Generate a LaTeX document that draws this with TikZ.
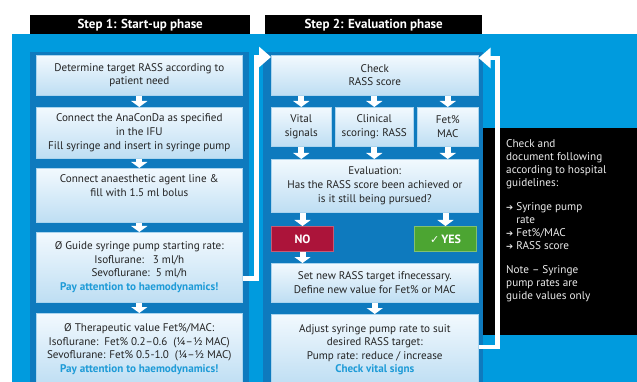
\documentclass[tikz,border=0pt]{standalone}
\usepackage{fontspec}
\setmainfont{PT Sans}
\newfontfamily\symfont{DejaVu Sans}
\usetikzlibrary{arrows.meta,calc}
\definecolor{bgblue}{RGB}{0,155,222}
\definecolor{panelblue}{RGB}{14,122,190}
\definecolor{boxtop}{RGB}{242,249,254}
\definecolor{boxbot}{RGB}{190,222,243}
\definecolor{boxedge}{RGB}{170,212,238}
\definecolor{accent}{RGB}{30,155,215}
\definecolor{txt}{RGB}{35,35,35}
\definecolor{nored}{RGB}{172,20,58}
\definecolor{yesgreen}{RGB}{76,165,50}
\tikzset{
  box/.style={top color=boxtop, bottom color=boxbot, draw=boxedge, line width=0.6pt,
    inner sep=0pt, align=center, text=txt, anchor=north west,
    font=\fontsize{11.1}{13.6}\selectfont},
  header/.style={fill=black, text=white, inner sep=0pt, anchor=north west,
    font=\bfseries\fontsize{13}{14}\selectfont},
  darr/.style={draw=white, line width=6pt, -{Triangle[width=16pt,length=6pt]}},
  fb/.style={draw=white, line width=4.5pt, line join=miter,
    -{Triangle[width=20pt,length=12pt]}},
  flag/.style={inner sep=0pt, anchor=north west, text=white, line width=1pt,
    font=\bfseries\fontsize{12}{13}\selectfont, minimum width=62pt, minimum height=25pt},
}
\newcommand{\pay}{{\color{accent}\bfseries Pay attention to haemodynamics!}}
\newcommand{\harr}{{\symfont\fontsize{8.5}{13}\selectfont ➔}}
\begin{document}
\begin{tikzpicture}[x=1pt,y=-1pt]
\useasboundingbox (0,0) rectangle (637,382);
\fill[white] (0,0) rectangle (637,382);
\fill[bgblue] (12,34) rectangle (637,382);
\fill[panelblue] (30,52) rectangle (249,382);
\fill[panelblue] (263,52) rectangle (483,382);
\fill[black] (483,128) rectangle (637,335);

\node[header, minimum width=220pt, minimum height=19pt] (h1) at (30,15) {Step 1: Start-up phase};
\node[header, minimum width=217pt, minimum height=19pt] (h2) at (265,15) {Step 2: Evaluation phase};

% column 1
\node[box, minimum width=206pt, minimum height=40pt] (b1) at (36,55)
  {Determine target RASS according to\\patient need};
\node[box, minimum width=206pt, minimum height=51pt] (b2) at (36,107)
  {Connect the AnaConDa as specified\\in the IFU\\Fill syringe and insert in syringe pump};
\node[box, minimum width=206pt, minimum height=54pt] (b3) at (36,168)
  {Connect anaesthetic agent line \&\\fill with 1.5 ml bolus\\[6pt]};
\node[box, minimum width=206pt, minimum height=70pt] (b4) at (36,232)
  {Ø Guide syringe pump starting rate:\\Isoflurane:\ \ \ 3 ml/h\\Sevoflurane:\ \ 5 ml/h\\\pay};
\node[box, minimum width=206pt, minimum height=72pt] (b5) at (36,313)
  {Ø Therapeutic value Fet\%/MAC:\\Isoflurane:\ \ Fet\% 0.2–0.6\ \ (¼–½ MAC)\\Sevoflurane: Fet\% 0.5-1.0\ \ (¼–½ MAC)\\\pay};

\draw[darr] (b1.south) -- (b2.north);
\draw[darr] (b2.south) -- (b3.north);
\draw[darr] (b3.south) -- (b4.north);
\draw[darr] (b4.south) -- (b5.north);

% column 2
\node[box, minimum width=207pt, minimum height=40pt] (c1) at (271,55)
  {Check\\RASS score};
\node[box, minimum width=60pt, minimum height=39pt] (c2a) at (271,107)
  {Vital\\signals};
\node[box, minimum width=78pt, minimum height=39pt] (c2b) at (335,107)
  {Clinical\\scoring: RASS};
\node[box, minimum width=61pt, minimum height=39pt] (c2c) at (417,107)
  {Fet\%\\MAC};
\node[box, minimum width=207pt, minimum height=53pt] (c3) at (271,159)
  {Evaluation:\\Has the RASS score been achieved or\\is it still being pursued?};
\node[flag, fill=nored, draw=nored!70!white] (no) at (271,226) {NO};
\node[flag, fill=yesgreen, draw=yesgreen!70!white] (yes) at (414,226) {{\symfont\fontsize{11}{13}\selectfont ✓}\,YES};
\node[box, minimum width=207pt, minimum height=39pt] (c4) at (271,263)
  {Set new RASS target ifnecessary.\\Define new value for Fet\% or MAC};
\node[box, minimum width=207pt, minimum height=71pt] (c5) at (271,314)
  {Adjust syringe pump rate to suit\\desired RASS target:\\Pump rate: reduce / increase\\{\color{accent}\bfseries Check vital signs}};

\draw[darr] (c1.south -| c2a.north) -- (c2a.north);
\draw[darr] (c1.south -| c2b.north) -- (c2b.north);
\draw[darr] (c1.south -| c2c.north) -- (c2c.north);
\draw[darr] (c2a.south) -- (c2a.south |- c3.north);
\draw[darr] (c2b.south) -- (c2b.south |- c3.north);
\draw[darr] (c2c.south) -- (c2c.south |- c3.north);
\draw[darr] (no.north |- c3.south) -- (no.north);
\draw[darr] (yes.north |- c3.south) -- (yes.north);
\draw[darr] (no.south) -- (no.south |- c4.north);
\draw[darr] (c4.south) -- (c5.north);

% feedback loops
\draw[fb] ($(b4.east)+(0,11)$) -- ++(14,0) |- ($(c1.north west)+(0,2)$);
\draw[fb] ($(c5.east)+(0,-3)$) -- ++(19,0) |- ($(c1.north east)+(0,3)$);

% note
\node[anchor=north west, align=left, text=white!92!black, inner sep=0pt,
  font=\fontsize{11.2}{13}\selectfont] (note) at (506,139)
  {Check and\\document following\\according to hospital\\guidelines:\\[11pt]
   \harr\ Syringe pump\\
   \phantom{\harr\ }rate\\
   \harr\ Fet\%/MAC\\
   \harr\ RASS score\\[11pt]
   Note – Syringe\\pump rates are\\guide values only};
\end{tikzpicture}
\end{document}
